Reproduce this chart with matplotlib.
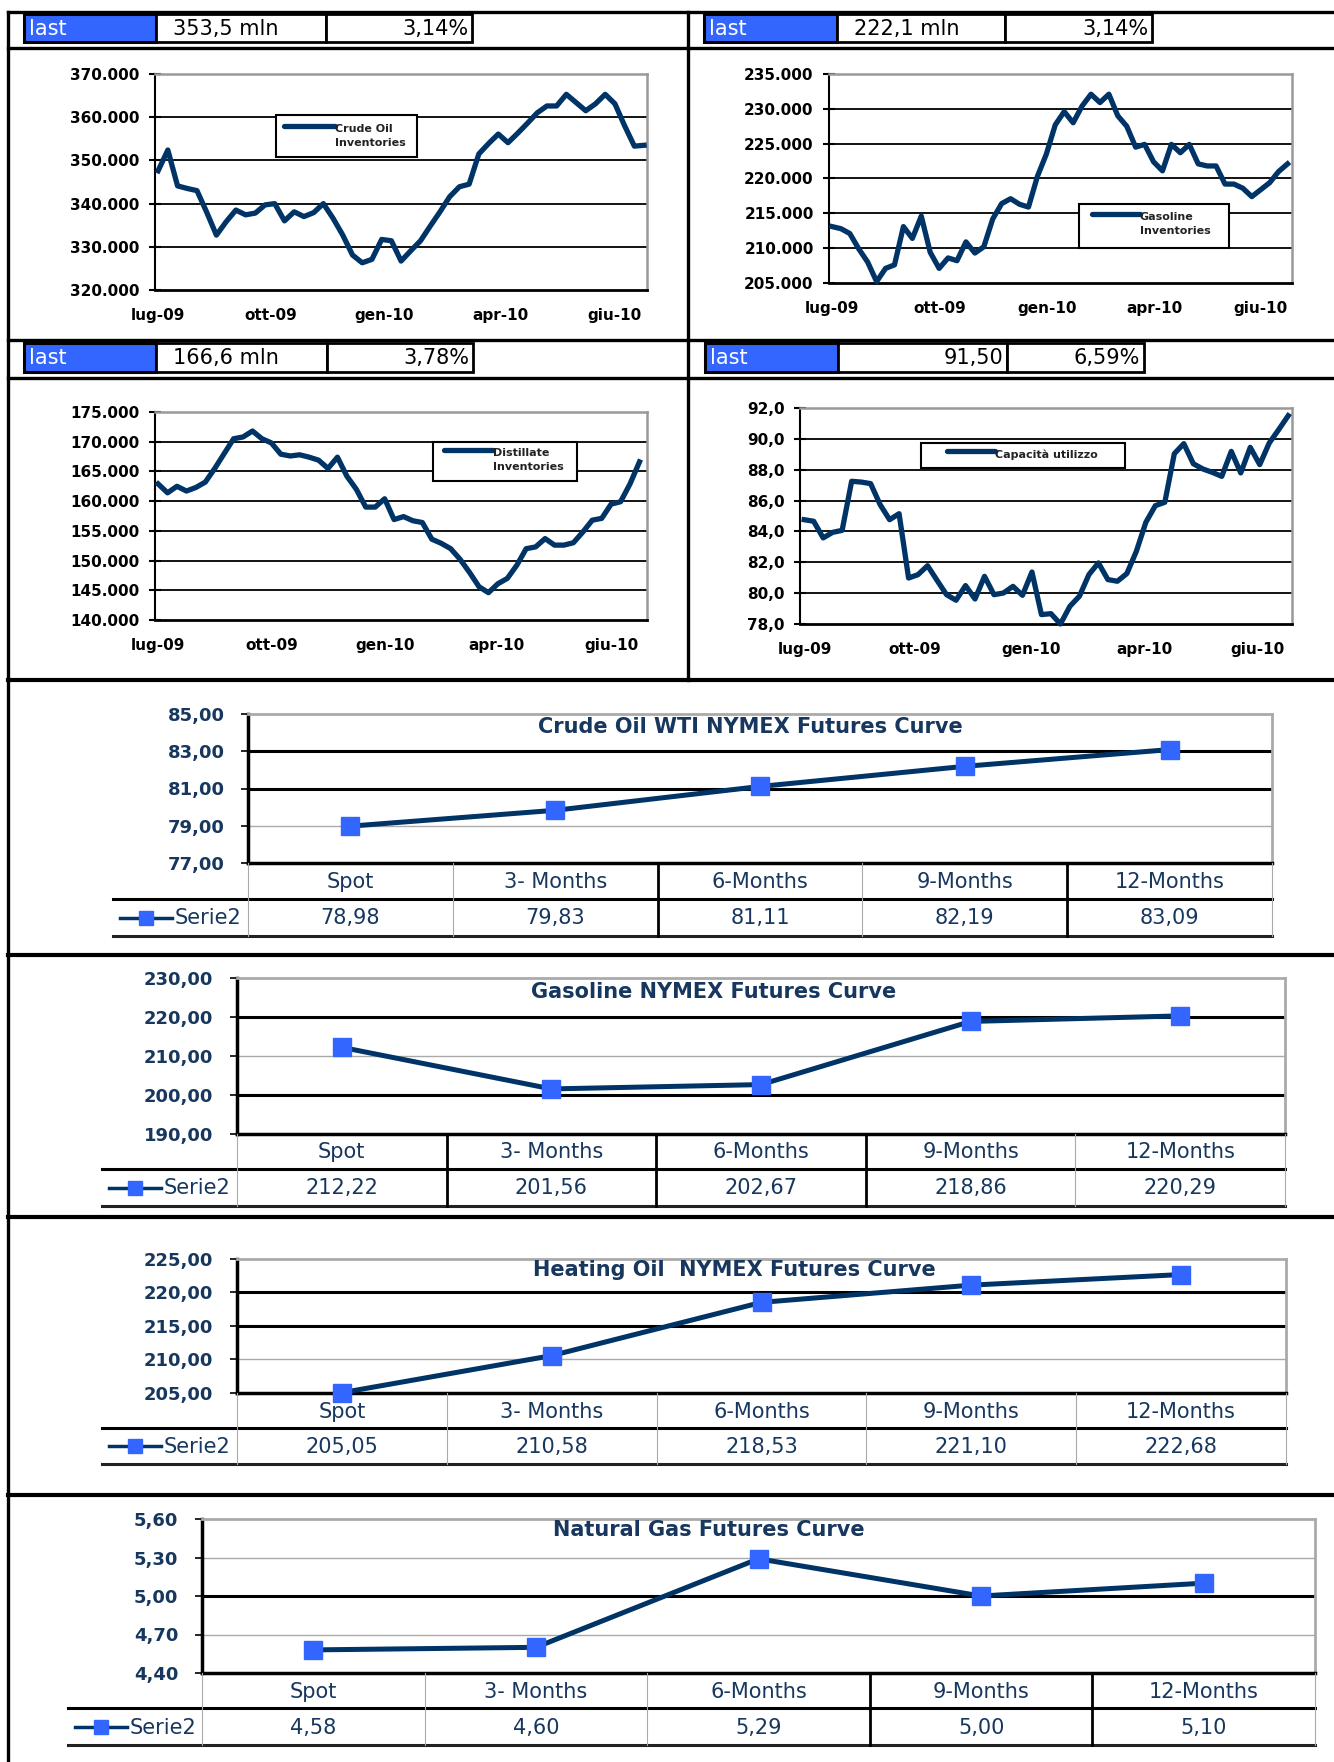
import numpy as np
import matplotlib.pyplot as plt
from matplotlib.patches import Rectangle
import matplotlib.transforms as mtransforms

W, H = 1334, 1762
NAVY = '#003366'
TXT = '#17375E'
BLUE = '#3366FF'

# weekly inventories (million barrels), lug-09 .. giu-10
crude_oil = [347.6, 352.4, 344.1, 343.5, 343.0, 338.0, 332.7, 335.8, 338.5, 337.4,
             337.8, 339.7, 340.0, 336.0, 338.1, 337.0, 337.9, 340.0, 336.6, 332.7,
             328.1, 326.3, 327.1, 331.7, 331.4, 326.7, 329.1, 331.4, 334.8, 338.1,
             341.6, 343.9, 344.5, 351.5, 353.9, 356.1, 354.1, 356.3, 358.6, 361.0,
             362.6, 362.6, 365.3, 363.4, 361.5, 363.1, 365.3, 363.1, 358.0, 353.3,
             353.5]
gasoline = [213.1, 212.8, 212.1, 209.9, 208.0, 205.2, 207.1, 207.6, 213.1, 211.4,
            214.6, 209.4, 207.1, 208.6, 208.2, 210.9, 209.3, 210.2, 214.2, 216.4,
            217.1, 216.3, 215.9, 220.3, 223.5, 227.7, 229.6, 228.0, 230.4, 232.1,
            230.9, 232.1, 229.0, 227.5, 224.5, 224.9, 222.4, 221.1, 224.9, 223.7,
            224.9, 222.1, 221.8, 221.8, 219.2, 219.2, 218.6, 217.4, 218.4, 219.4,
            221.0, 222.1]
distillate = [162.9, 161.4, 162.5, 161.7, 162.3, 163.2, 165.5, 168.0, 170.5, 170.8,
              171.8, 170.5, 169.8, 167.9, 167.6, 167.8, 167.4, 166.9, 165.5, 167.4,
              164.2, 162.0, 159.0, 159.0, 160.4, 156.9, 157.4, 156.7, 156.4, 153.6,
              152.9, 152.0, 150.2, 148.0, 145.6, 144.6, 146.1, 147.0, 149.2, 152.0,
              152.3, 153.7, 152.6, 152.6, 153.0, 154.8, 156.8, 157.1, 159.5, 159.9,
              162.9, 166.6]
capacity = [84.76, 84.66, 83.58, 83.94, 84.07, 87.25, 87.20, 87.10, 85.74, 84.76,
            85.15, 80.98, 81.20, 81.78, 80.83, 79.90, 79.54, 80.49, 79.62, 81.09,
            79.90, 80.01, 80.44, 79.86, 81.37, 78.61, 78.67, 78.00, 79.15, 79.80,
            81.20, 81.96, 80.88, 80.77, 81.27, 82.71, 84.59, 85.67, 85.89, 89.04,
            89.69, 88.39, 88.05, 87.83, 87.57, 89.19, 87.79, 89.45, 88.33, 89.73,
            90.60, 91.50]
month_labels = ['lug-09', 'ott-09', 'gen-10', 'apr-10', 'giu-10']

# header boxes: last value, weekly change
headers = [('353,5 mln', '3,14%'), ('222,1 mln', '3,14%'),
           ('166,6 mln', '3,78%'), ('91,50', '6,59%')]

# futures curves
tenors = ['Spot', '3- Months', '6-Months', '9-Months', '12-Months']
wti_curve = [78.98, 79.83, 81.11, 82.19, 83.09]
gasoline_curve = [212.22, 201.56, 202.67, 218.86, 220.29]
heating_curve = [205.05, 210.58, 218.53, 221.10, 222.68]
natgas_curve = [4.58, 4.60, 5.29, 5.00, 5.10]

plt.rcParams['font.family'] = 'DejaVu Sans'
fig = plt.figure(figsize=(W / 100, H / 100), dpi=100)


def px_rect(l, t, r, b):
    return [l / W, 1 - b / H, (r - l) / W, (b - t) / H]


# overlay in pixel coordinates for frame, headers, legends and tables
bg = fig.add_axes([0, 0, 1, 1], zorder=10)
bg.set_xlim(0, W)
bg.set_ylim(H, 0)
bg.axis('off')

# frame lines
for y in [12, 48, 340, 378]:
    bg.plot([8, W], [y, y], color='black', lw=2.4)
for y in [680, 955, 1217, 1495]:
    bg.plot([8, W], [y, y], color='black', lw=3)
bg.plot([8, 8], [12, H], color='black', lw=2.4)
bg.plot([688, 688], [12, 680], color='black', lw=2.4)


def header(xs, y0, y1, value, pct, value_right=False):
    bg.add_patch(Rectangle((xs[0], y0), xs[1] - xs[0], y1 - y0, fc=BLUE, ec='black', lw=2.2))
    bg.add_patch(Rectangle((xs[1], y0), xs[2] - xs[1], y1 - y0, fc='white', ec='black', lw=2))
    bg.add_patch(Rectangle((xs[2], y0), xs[3] - xs[2], y1 - y0, fc='white', ec='black', lw=2))
    ym = (y0 + y1) / 2 + 1
    bg.text(xs[0] + 5, ym, 'last', color='white', fontsize=15, va='center')
    if value_right:
        bg.text(xs[2] - 4, ym, value, fontsize=15, va='center', ha='right')
    else:
        bg.text(xs[1] + 17, ym, value, fontsize=15, va='center')
    bg.text(xs[3] - 4, ym, pct, fontsize=15, va='center', ha='right')


header([24, 156, 326, 472], 14, 42, *headers[0])
header([704, 837, 1005, 1152], 14, 42, *headers[1])
header([24, 156, 327, 473], 343, 372, *headers[2])
header([705, 838, 1007, 1144], 343, 372, *headers[3], value_right=True)


def inv_fmt(v):
    return f'{v * 1000:,.0f}'.replace(',', '.')


def cap_fmt(v):
    return f'{v:.1f}'.replace('.', ',')


def inventory_chart(rect, values, yticks, fmt, xlim, xticks, legend_box, legend_line, legend_text):
    ax = fig.add_axes(px_rect(*rect))
    x = np.arange(len(values))
    ax.plot(x, values, color=NAVY, lw=3.8, solid_joinstyle='round', zorder=3, clip_on=False)
    ax.set_xlim(*xlim)
    ax.set_ylim(yticks[0], yticks[-1])
    ax.set_yticks(yticks)
    ax.set_yticklabels([fmt(t) for t in yticks], fontweight='bold', fontsize=11)
    for t in yticks[1:-1]:
        ax.axhline(t, color='black', lw=1.3, zorder=1)
    ax.set_xticks(xticks)
    ax.set_xticklabels(month_labels, fontweight='bold', fontsize=11)
    ax.tick_params(axis='x', length=0, pad=13)
    ax.tick_params(axis='y', direction='inout', length=8, width=1.5, pad=7)
    ax.spines['left'].set_linewidth(1.5)
    ax.spines['bottom'].set_linewidth(2)
    for s in ['top', 'right']:
        ax.spines[s].set_color('#999999')
        ax.spines[s].set_linewidth(1.8)
    # legend
    l, t, r, b = legend_box
    bg.add_patch(Rectangle((l, t), r - l, b - t, fc='white', ec='black', lw=1.5))
    x0, x1, y = legend_line
    bg.plot([x0, x1], [y, y], color=NAVY, lw=3.8, solid_capstyle='round')
    bg.text(x1, y - 2, legend_text, fontsize=8, fontweight='bold', va='top',
            linespacing=1.5, color='#222222')
    return ax


inventory_chart((155, 74, 647, 290), crude_oil, np.arange(320, 371, 10), inv_fmt,
                (-0.32, 50.3), [0, 11.6, 23.3, 35.2, 47],
                (276, 115, 417, 157), (284, 335, 126), 'Crude Oil\nInventories')
inventory_chart((829, 74, 1292, 283), gasoline, np.arange(205, 236, 5), inv_fmt,
                (-0.33, 51.5), [0, 12.1, 24.1, 36.1, 48],
                (1079, 204, 1229, 248), (1092, 1140, 214), 'Gasoline\nInventories')
inventory_chart((155, 412, 647, 620), distillate, np.arange(140, 176, 5), inv_fmt,
                (-0.33, 51.8), [0, 12, 24, 35.9, 48],
                (433, 442, 577, 481), (444, 493, 450), 'Distillate\nInventories')
inventory_chart((800, 408, 1292, 624), capacity, np.arange(78, 93, 2), cap_fmt,
                (-0.44, 51.4), [0.1, 11.7, 23.9, 35.9, 47.8],
                (921, 443, 1125, 468), (947, 995, 451), 'Capacità utilizzo')


def val_fmt(v):
    return f'{v:.2f}'.replace('.', ',')


def futures_chart(rect, values, yticks, grid_colors, title, title_x, title_dy,
                  r1, r2, legend_left, col_colors):
    ax = fig.add_axes(px_rect(*rect))
    x = np.arange(len(values))
    ax.plot(x, values, color=NAVY, lw=3.6, marker='s', ms=13, mfc=BLUE, mec=BLUE,
            clip_on=False, zorder=4)
    ax.set_xlim(-0.5, len(values) - 0.5)
    ax.set_ylim(yticks[0], yticks[-1])
    ax.set_yticks(yticks)
    ax.set_yticklabels([val_fmt(t) for t in yticks], fontweight='bold', fontsize=13, color=TXT)
    ax.set_xticks([])
    ax.tick_params(axis='y', direction='out', length=5, width=1.2, pad=12)
    for t, c in zip(yticks[1:-1], grid_colors):
        ax.axhline(t, color=c, lw=2.2 if c == 'black' else 1.0, zorder=1)
    ax.spines['left'].set_linewidth(2.5)
    ax.spines['bottom'].set_linewidth(2.5)
    for s in ['top', 'right']:
        ax.spines[s].set_color('#aaaaaa')
        ax.spines[s].set_linewidth(2)
    bg.text(title_x, rect[1] + title_dy, title, fontsize=15, fontweight='bold',
            color=TXT, ha='center', va='center')

    # data table under the plot
    tr = mtransforms.blended_transform_factory(ax.transData, bg.transData)
    y1c = (rect[3] + r1) / 2 + 1
    y2c = (r1 + r2) / 2 + 1
    for i, (lab, v) in enumerate(zip(tenors, values)):
        bg.text(i, y1c, lab, transform=tr, ha='center', va='center', fontsize=15, color=TXT)
        bg.text(i, y2c, val_fmt(v), transform=tr, ha='center', va='center', fontsize=15, color=TXT)
    bg.plot([legend_left, rect[2]], [r1, r1], color='black', lw=2.2)
    bg.plot([legend_left, rect[2]], [r2, r2], color='#222222', lw=2.2)
    for k, c in enumerate(col_colors):
        bg.plot([k - 0.5, k - 0.5], [rect[3], r2], transform=tr, color=c,
                lw=2 if c == 'black' else 0.8)
    bg.plot([legend_left + 7, legend_left + 59], [y2c - 1, y2c - 1], color=NAVY, lw=2.5)
    bg.plot([legend_left + 33], [y2c - 1], marker='s', ms=10, color=BLUE)
    bg.text(legend_left + 62, y2c, 'Serie2', fontsize=15, color=TXT, va='center')
    return ax


futures_chart((248, 714, 1272, 863), wti_curve, [77, 79, 81, 83, 85],
              ['#aaaaaa', 'black', 'black'],
              'Crude Oil WTI NYMEX Futures Curve', 750, 13, 899, 936, 113,
              ['#aaaaaa', '#aaaaaa', 'black', '#aaaaaa', 'black', '#aaaaaa'])
futures_chart((237, 978, 1285, 1134), gasoline_curve, [190, 200, 210, 220, 230],
              ['black', '#aaaaaa', 'black'],
              'Gasoline NYMEX Futures Curve', 714, 14, 1169, 1206, 102,
              ['#aaaaaa', 'black', 'black', 'black', '#aaaaaa', '#aaaaaa'])
futures_chart((237, 1259, 1286, 1393), heating_curve, [205, 210, 215, 220, 225],
              ['#aaaaaa', 'black', 'black'],
              'Heating Oil  NYMEX Futures Curve', 734, 11, 1428, 1464, 102,
              ['#aaaaaa'] * 6)
futures_chart((202, 1519, 1315, 1673), natgas_curve, list(np.linspace(4.4, 5.6, 5)),
              ['#aaaaaa', 'black', '#aaaaaa'],
              'Natural Gas Futures Curve', 709, 11, 1708, 1745, 68,
              ['#aaaaaa', '#aaaaaa', '#aaaaaa', 'black', 'black', '#aaaaaa'])

fig.savefig('out.png', dpi=100)
